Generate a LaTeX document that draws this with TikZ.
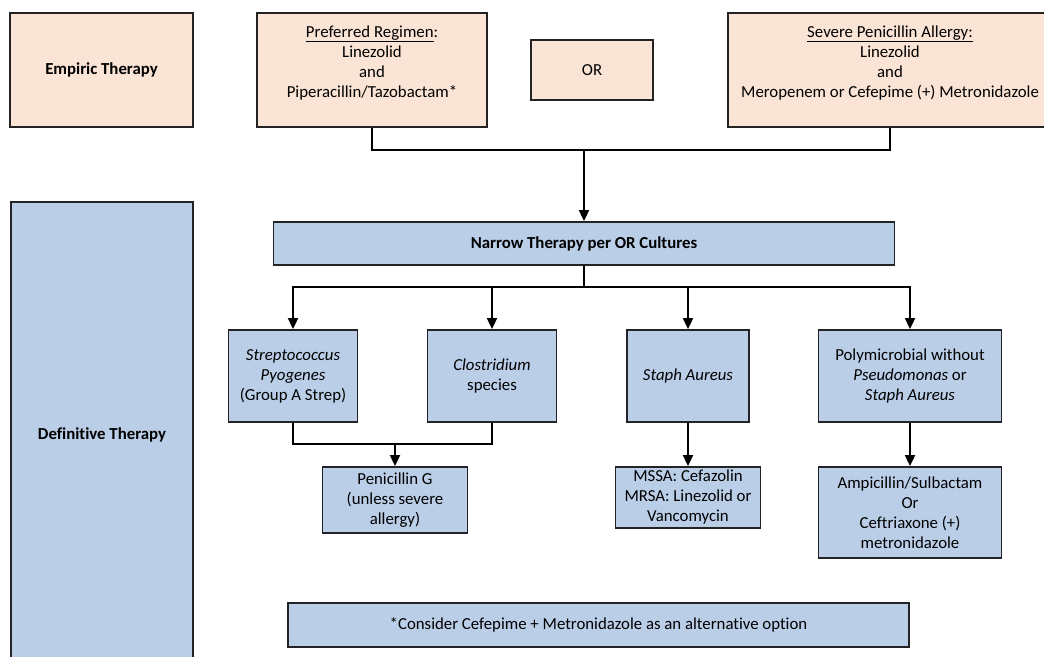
\documentclass[tikz,border=0pt]{standalone}
\usepackage{fontspec}
\setmainfont{Carlito}[Ligatures=NoCommon]
\usetikzlibrary{arrows.meta}
\definecolor{peach}{RGB}{250,228,213}
\definecolor{bluebox}{RGB}{187,206,232}
\definecolor{edge}{RGB}{35,35,35}
\tikzset{
  box/.style={draw=edge, line width=1.8pt, rectangle, inner sep=0pt, align=center,
    font=\fontsize{16.8}{20}\selectfont},
  emp/.style={box, fill=peach},
  defn/.style={box, fill=bluebox},
  link/.style={line width=1.8pt, draw=black},
  arr/.style={link, -{Triangle[width=10pt,length=11pt]}},
}
\begin{document}
\begin{tikzpicture}[x=1pt,y=-1pt]
\useasboundingbox (0,0) rectangle (1044,656);
\clip (0,0) rectangle (1044,656);
% empiric row
\node[emp, minimum width=183pt, minimum height=114pt] (empiric) at (101.5,70) {\textbf{Empiric Therapy}};
\node[emp, minimum width=230pt, minimum height=114pt] (pref) at (372,70)
  {\underline{Preferred Regimen}:\\ Linezolid\\ and\\ Piperacillin/Tazobactam*\\[-9pt] \strut};
\node[emp, minimum width=122pt, minimum height=60pt] (or) at (592,70) {OR};
\node[emp, minimum width=324pt, minimum height=114pt] (sev) at (890,70)
  {\underline{Severe Penicillin Allergy:}\\ Linezolid\\ and\\ Meropenem or Cefepime (+) Metronidazole\\[-9pt] \strut};
% definitive
\node[defn, minimum width=182pt, minimum height=466pt] (defin) at (102,435) {\textbf{Definitive Therapy}};
\node[defn, minimum width=621pt, minimum height=43pt] (narrow) at (584,243.5) {\textbf{Narrow Therapy per OR Cultures}};
\node[defn, minimum width=129pt, minimum height=92pt] (strep) at (293,376)
  {\textit{Streptococcus}\\ \textit{Pyogenes}\\ (Group A Strep)};
\node[defn, minimum width=129pt, minimum height=92pt] (clos) at (492,376)
  {\textit{Clostridium}\\ species};
\node[defn, minimum width=122pt, minimum height=92pt] (staph) at (688,376)
  {\textit{Staph Aureus}};
\node[defn, minimum width=183pt, minimum height=92pt] (poly) at (910,376)
  {Polymicrobial without\\ \textit{Pseudomonas} or\\ \textit{Staph Aureus}};
\node[defn, minimum width=145pt, minimum height=66pt] (pen) at (395,500)
  {Penicillin G\\ (unless severe\\ allergy)};
\node[defn, minimum width=145pt, minimum height=61pt] (mssa) at (688,497.5)
  {MSSA: Cefazolin\\ MRSA: Linezolid or\\ Vancomycin};
\node[defn, minimum width=183pt, minimum height=91pt] (amp) at (910,512.5)
  {Ampicillin/Sulbactam\\ Or\\ Ceftriaxone (+)\\ metronidazole};
\node[defn, minimum width=621pt, minimum height=44pt] (foot) at (598.5,625)
  {*Consider Cefepime + Metronidazole as an alternative option};
% connectors
\coordinate (j1) at (584,150);
\draw[link] (pref.south) |- (j1) -| (sev.south);
\draw[arr] (j1) -- (narrow.north);
\coordinate (j2) at (584,287);
\draw[link] (narrow.south) -- (j2);
\draw[arr] (j2) -| (strep.north);
\draw[arr] (j2) -| (clos.north);
\draw[arr] (j2) -| (staph.north);
\draw[arr] (j2) -| (poly.north);
\coordinate (j3) at (395,444);
\draw[link] (strep.south) |- (j3) -| (clos.south);
\draw[arr] (j3) -- (pen.north);
\draw[arr] (staph.south) -- (mssa.north);
\draw[arr] (poly.south) -- (amp.north);
\end{tikzpicture}
\end{document}
